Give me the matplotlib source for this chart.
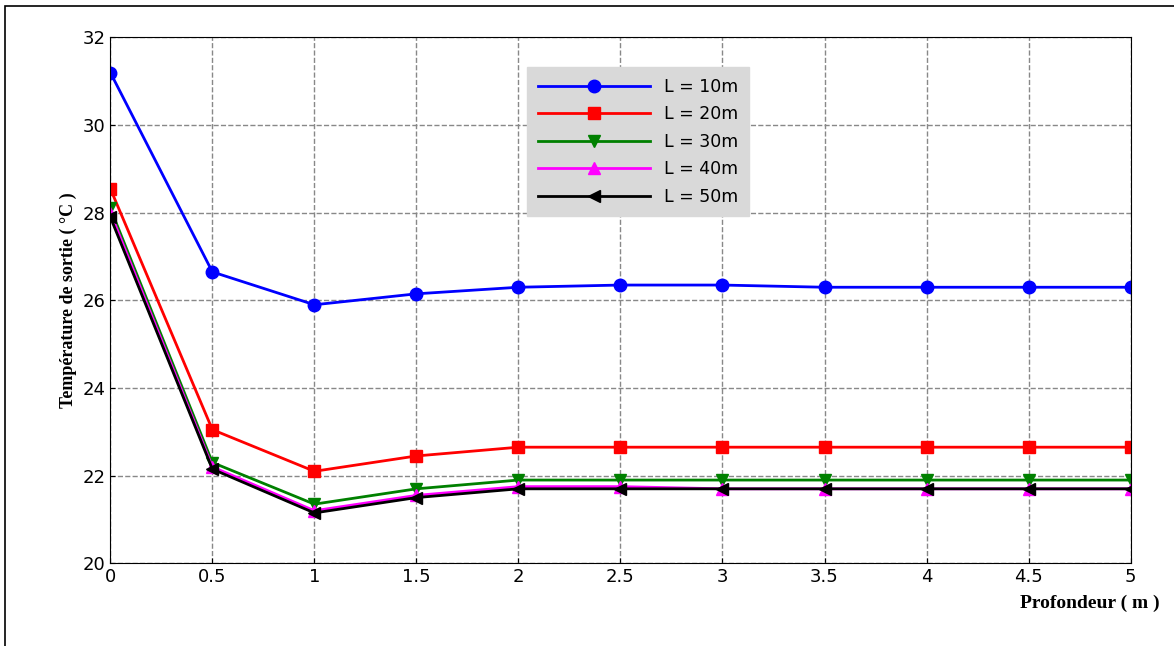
import matplotlib.pyplot as plt

depth = [0, 0.5, 1, 1.5, 2, 2.5, 3, 3.5, 4, 4.5, 5]
t_10 = [31.2, 26.65, 25.9, 26.15, 26.3, 26.35, 26.35, 26.3, 26.3, 26.3, 26.3]
t_20 = [28.55, 23.05, 22.1, 22.45, 22.65, 22.65, 22.65, 22.65, 22.65, 22.65, 22.65]
t_30 = [28.1, 22.3, 21.35, 21.7, 21.9, 21.9, 21.9, 21.9, 21.9, 21.9, 21.9]
t_40 = [28.0, 22.2, 21.2, 21.55, 21.75, 21.75, 21.7, 21.7, 21.7, 21.7, 21.7]
t_50 = [27.9, 22.15, 21.15, 21.5, 21.7, 21.7, 21.7, 21.7, 21.7, 21.7, 21.7]

series = [
    ('L = 10m', t_10, 'blue', 'o'),
    ('L = 20m', t_20, 'red', 's'),
    ('L = 30m', t_30, 'green', 'v'),
    ('L = 40m', t_40, 'magenta', '^'),
    ('L = 50m', t_50, 'black', '<'),
]

fig = plt.figure(figsize=(11.74, 6.46), dpi=100)
fig.patches.append(plt.Rectangle((0.004, -0.01), 1.0, 1.0, transform=fig.transFigure,
                                 fill=False, edgecolor='black', linewidth=1.2))
ax = fig.add_axes([0.094, 0.128, 0.869, 0.814])
for label, vals, c, m in series:
    ax.plot(depth, vals, color=c, marker=m, markersize=9, linewidth=2, label=label)

ax.set_xlim(0, 5)
ax.set_ylim(20, 32)
ax.set_xticks(depth)
ax.set_xticklabels(['0', '0.5', '1', '1.5', '2', '2.5', '3', '3.5', '4', '4.5', '5'])
ax.set_yticks(range(20, 33, 2))
ax.tick_params(labelsize=13, direction='in')
ax.grid(True, linestyle='--', color='#888888', linewidth=1)
ax.set_ylabel('Température de sortie ( °C )', fontfamily='Liberation Serif',
              fontweight='bold', fontsize=13)
ax.set_xlabel('Profondeur ( m )', fontfamily='Liberation Serif', fontweight='bold',
              fontsize=14)
ax.xaxis.set_label_coords(0.96, -0.06)
leg = ax.legend(loc='upper left', bbox_to_anchor=(0.4, 0.96), fontsize=12.5,
                frameon=True, fancybox=False, handlelength=6.5, labelspacing=0.55,
                borderpad=0.6)
leg.get_frame().set_facecolor('#d9d9d9')
leg.get_frame().set_edgecolor('#d9d9d9')
leg.get_frame().set_alpha(1)

plt.savefig('out.png')
